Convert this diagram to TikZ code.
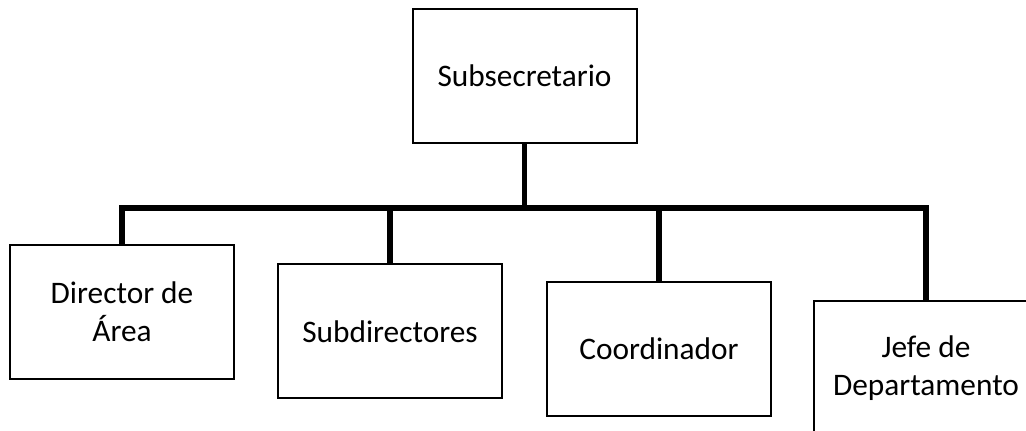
\documentclass[tikz,border=0pt]{standalone}
\usepackage{fontspec}
\setmainfont{Carlito}
\begin{document}
\begin{tikzpicture}[x=0.75pt,y=-0.75pt,
  unit/.style={draw=black,line width=1.5pt,fill=white,minimum width=168pt,
    minimum height=100.5pt,inner sep=0pt,align=center,
    font=\fontsize{23.5}{28.5}\selectfont},
  conn/.style={line width=3.8pt,line join=miter}]
\useasboundingbox (0,0) rectangle (1026,431);
\clip (0,0) rectangle (1026,431);
% organisation chart units
\node[unit] (top) at (524.5,76) {Subsecretario};
\node[unit] (dir) at (122,312) {Director de\\Área};
\node[unit] (sub) at (390,331.5) {Subdirectores};
\node[unit] (coo) at (659,349) {Coordinador};
\node[unit] (jefe) at (926,368) {Jefe de\\Departamento};
\coordinate (bar) at (524.5,208);
% reporting lines
\draw[conn] (top.south) -- (top.south |- bar);
\draw[conn] (dir.north) -- (dir.north |- bar) -- (jefe.north |- bar) -- (jefe.north);
\draw[conn] (sub.north) -- (sub.north |- bar);
\draw[conn] (coo.north) -- (coo.north |- bar);
\end{tikzpicture}
\end{document}
